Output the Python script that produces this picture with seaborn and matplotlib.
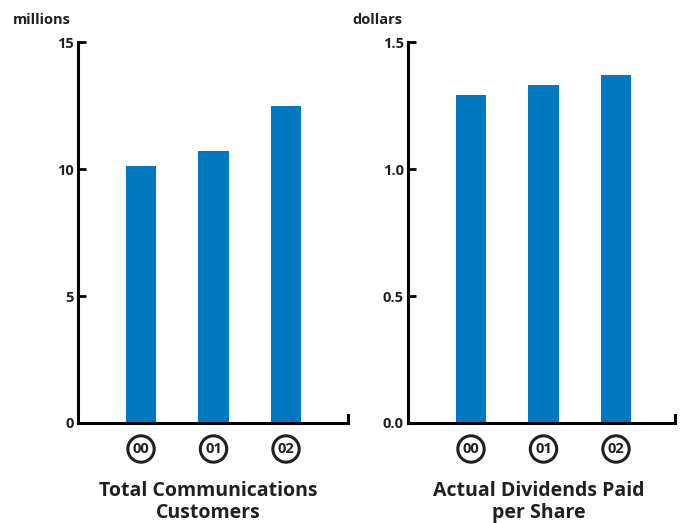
import matplotlib
matplotlib.use("Agg")
import matplotlib.pyplot as plt
import matplotlib.transforms as mtransforms
import pandas as pd
import seaborn as sns

# Data
years = ["00", "01", "02"]
customers_millions = [10.1, 10.7, 12.5]
dividends_dollars = [1.29, 1.33, 1.37]

customer_ticks = [0, 5, 10, 15]
customer_tick_labels = ["0", "5", "10", "15"]
dividend_ticks = [0.0, 0.5, 1.0, 1.5]
dividend_tick_labels = ["0.0", "0.5", "1.0", "1.5"]

BLUE = "#0079C1"
INK = "#231F20"

sns.set_theme(style="white")
plt.rcParams["font.family"] = ["Open Sans", "DejaVu Sans"]
plt.rcParams["font.weight"] = "bold"

fig = plt.figure(figsize=(6.84, 5.23), dpi=100)
ax_left = fig.add_axes([78 / 684, 1 - 423 / 523, 270 / 684, 381 / 523])
ax_right = fig.add_axes([408 / 684, 1 - 423 / 523, 267 / 684, 381 / 523])

panels = [
    (ax_left, customers_millions, customer_ticks, customer_tick_labels,
     15, "millions", 65, "Total Communications\nCustomers", 0.481, 2.855),
    (ax_right, dividends_dollars, dividend_ticks, dividend_tick_labels,
     1.5, "dollars", 56, "Actual Dividends Paid\nper Share", 0.489, 2.814),
]

for (ax, values, ticks, tick_labels, ymax, unit, unit_off,
     title, title_x, xright) in panels:
    df = pd.DataFrame({"year": years, "value": values})
    sns.barplot(data=df, x="year", y="value", color=BLUE, width=0.414,
                saturation=1, ax=ax, edgecolor="none")
    ax.set_xlim(-0.869, xright)
    ax.set_ylim(0, ymax)
    ax.set_xlabel("")
    ax.set_ylabel("")
    ax.set_facecolor("none")

    ax.spines["top"].set_visible(False)
    for side in ["left", "bottom", "right"]:
        ax.spines[side].set_color("black")
        ax.spines[side].set_linewidth(2.2)
        ax.spines[side].set_capstyle("projecting")
    # short upturn at the end of the baseline
    ax.spines["right"].set_bounds(0, ymax * 8 / 381)

    ax.set_yticks(ticks)
    ax.set_yticklabels(tick_labels)
    ax.tick_params(axis="y", direction="in", length=6, width=2, color="black",
                   labelsize=10.5, labelcolor=INK, pad=3, left=True, right=False)
    for lab in ax.get_yticklabels():
        lab.set_fontweight("bold")
    ax.set_xticks([])

    # circled year labels beneath each bar
    trans = mtransforms.blended_transform_factory(ax.transData, ax.transAxes)
    for i, yr in enumerate(years):
        ax.text(i, -26 / 381, yr, transform=trans, ha="center", va="center",
                fontsize=10.5, fontweight="bold", color=INK,
                bbox=dict(boxstyle="circle,pad=0.33", fc="white", ec=INK, lw=2.2))

    # unit label above the axis
    ax.text(-0.869 - unit_off / 72.5, 1 + 22 / 381, unit, transform=trans,
            ha="left", va="center", fontsize=10.5, fontweight="bold", color=INK)

    # panel caption
    ax.text(title_x, -79 / 381, title, transform=ax.transAxes, ha="center",
            va="center", fontsize=14, fontweight="bold", color=INK,
            linespacing=1.15)

fig.savefig("out.png", dpi=100)
